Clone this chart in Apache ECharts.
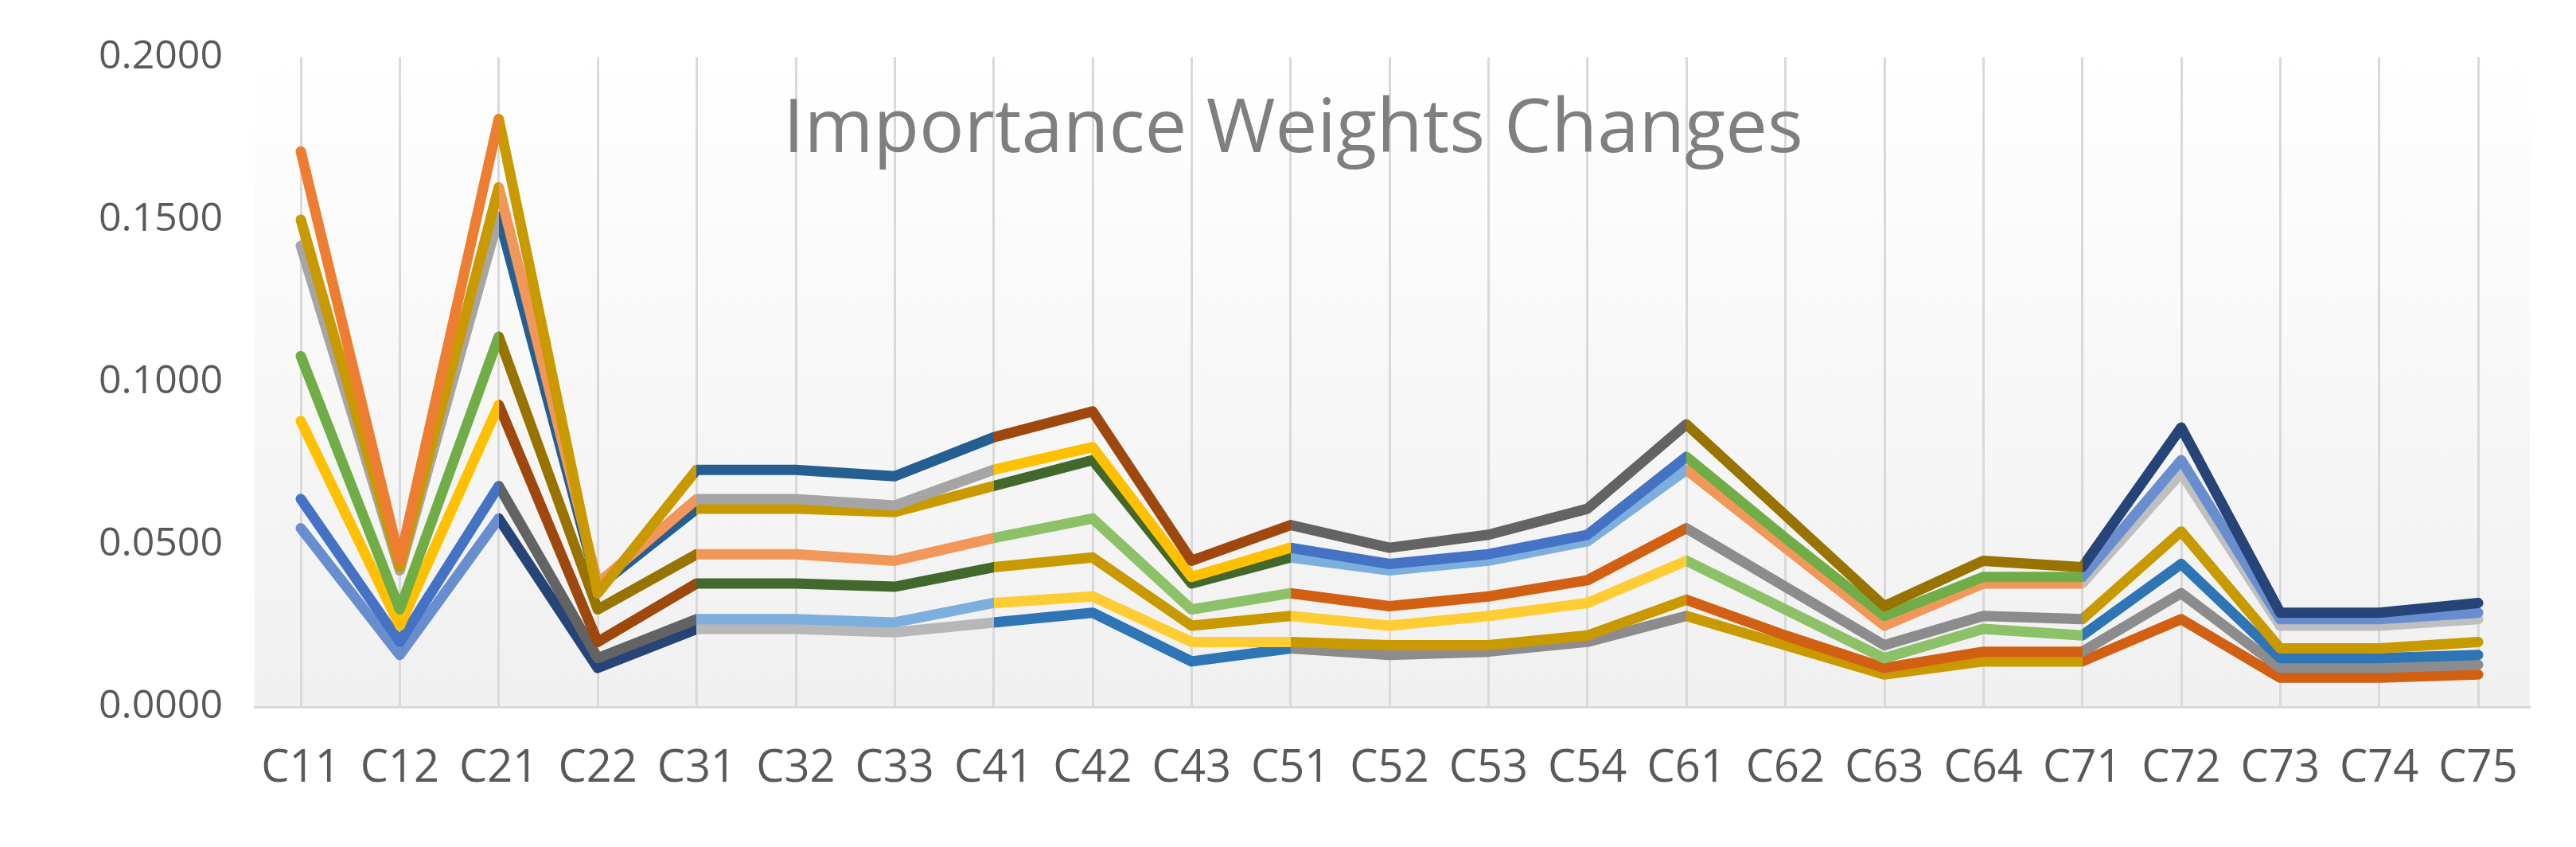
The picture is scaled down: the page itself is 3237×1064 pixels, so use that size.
<!DOCTYPE html>
<html>
<head>
<meta charset="utf-8">
<script src="https://cdn.jsdelivr.net/npm/echarts@6/dist/echarts.min.js"></script>
<style>html,body{margin:0;padding:0;background:#fff}#chart{width:3237px;height:1064px}</style>
</head>
<body>
<div id="chart"></div>
<script>
const categories = ['C11','C12','C21','C22','C31','C32','C33','C41','C42','C43','C51','C52','C53','C54','C61','C62','C63','C64','C71','C72','C73','C74','C75'];

// lines ranked top to bottom inside each criterion group
const line1 = [0.171,0.045,0.181,0.035,0.073,0.073,0.071,0.083,0.091,0.045,0.056,0.049,0.053,0.061,0.087,0.059,0.031,0.045,0.043,0.086,0.029,0.029,0.032];
const line2 = [0.150,0.043,0.160,0.038,0.064,0.064,0.062,0.073,0.080,0.040,0.049,0.044,0.047,0.053,0.077,0.052,0.028,0.040,0.040,0.076,0.027,0.027,0.029];
const line3 = [0.142,0.042,0.151,0.037,0.061,0.061,0.060,0.068,0.076,0.038,0.046,0.042,0.045,0.051,0.073,0.049,0.025,0.038,0.038,0.072,0.025,0.025,0.027];
const line4 = [0.108,0.030,0.114,0.030,0.047,0.047,0.045,0.052,0.058,0.030,0.035,0.031,0.034,0.039,0.055,0.037,0.019,0.028,0.027,0.054,0.018,0.018,0.020];
const line5 = [0.088,0.025,0.093,0.020,0.038,0.038,0.037,0.043,0.046,0.025,0.028,0.025,0.028,0.032,0.045,0.030,0.015,0.024,0.022,0.044,0.015,0.015,0.016];
const line6 = [0.064,0.020,0.068,0.015,0.027,0.027,0.026,0.032,0.034,0.020,0.020,0.019,0.019,0.022,0.033,0.022,0.012,0.017,0.017,0.035,0.012,0.012,0.013];
const line7 = [0.055,0.016,0.058,0.012,0.024,0.024,0.023,0.026,0.029,0.014,0.018,0.016,0.017,0.020,0.028,0.019,0.010,0.014,0.014,0.027,0.009,0.009,0.010];
const yTicks = [0, 0.05, 0.1, 0.15, 0.2];

const lines = [line1, line2, line3, line4, line5, line6, line7];
// colour of each line inside groups C1..C7
const colorsByLine = [
  ['#ED7D31','#C99A00','#255E91','#9E480E','#636363','#997300','#264478'],
  ['#C99A00','#F1975A','#A5A5A5','#FFC000','#4472C4','#70AD47','#698ED0'],
  ['#A5A5A5','#255E91','#C99A00','#43682B','#7CAFDD','#F1975A','#BFBFBF'],
  ['#70AD47','#997300','#F1975A','#8CC168','#D26012','#8C8C8C','#C99A00'],
  ['#FFC000','#9E480E','#43682B','#C99A00','#FFCD33','#8CC168','#2E75B6'],
  ['#4472C4','#636363','#7CAFDD','#FFCD33','#C99A00','#D26012','#8C8C8C'],
  ['#698ED0','#264478','#B7B7B7','#2E75B6','#8C8C8C','#C99A00','#D26012']
];
const bounds = [1.5, 3.5, 6.5, 9.5, 13.5, 17.5];

const visualMaps = lines.map((_, i) => {
  const c = colorsByLine[i];
  const pieces = [{ lt: bounds[0], color: c[0] }];
  for (let g = 1; g < bounds.length; g++) pieces.push({ gte: bounds[g - 1], lt: bounds[g], color: c[g] });
  pieces.push({ gte: bounds[bounds.length - 1], color: c[6] });
  return { type: 'piecewise', show: false, dimension: 0, seriesIndex: i + 1, pieces };
});

const chart = echarts.init(document.getElementById('chart'));
chart.setOption({
  animation: false,
  backgroundColor: '#fff',
  title: {
    text: 'Importance Weights Changes',
    left: 1620, top: 112, textAlign: 'center',
    textStyle: { fontFamily: 'Open Sans', fontWeight: 'normal', fontSize: 94, color: '#7F7F7F' }
  },
  grid: [
    {
      left: 320, right: 58, top: 72, bottom: 176, show: true, borderWidth: 0,
      backgroundColor: new echarts.graphic.LinearGradient(0, 0, 0, 1, [
        { offset: 0, color: '#FFFFFF' }, { offset: 1, color: '#F0F0F0' }
      ])
    },
    { left: 378, right: 123, top: 72, bottom: 176 }
  ],
  visualMap: visualMaps,
  xAxis: [
    {
      gridIndex: 0, type: 'category', data: categories, boundaryGap: true,
      axisLine: { lineStyle: { color: '#D9D9D9', width: 3 } },
      axisTick: { show: false }, splitLine: { show: false }, axisLabel: { show: false }
    },
    {
      gridIndex: 1, type: 'category', data: categories, boundaryGap: false,
      axisLine: { show: false },
      axisTick: { show: false },
      splitLine: { show: true, interval: 0, lineStyle: { color: '#D9D9D9', width: 3 } },
      axisLabel: { interval: 0, margin: 50, fontFamily: 'Open Sans', fontSize: 56, color: '#595959' }
    }
  ],
  yAxis: [
    {
      gridIndex: 0, type: 'value', min: yTicks[0], max: yTicks[yTicks.length - 1], interval: 0.05,
      splitLine: { show: false }, axisLine: { show: false }, axisTick: { show: false },
      axisLabel: { margin: 40, fontFamily: 'Open Sans', fontSize: 50, color: '#595959', formatter: v => v.toFixed(4) }
    },
    {
      gridIndex: 1, type: 'value', min: yTicks[0], max: yTicks[yTicks.length - 1], interval: 0.05,
      show: false
    }
  ],
  series: [{ type: 'line', xAxisIndex: 0, yAxisIndex: 0, data: [], symbol: 'none' }].concat(
    lines.map((d, i) => ({
      type: 'line', xAxisIndex: 1, yAxisIndex: 1, data: d, symbol: 'none', z: 10 - i,
      lineStyle: { width: 13, cap: 'round', join: 'round' }
    }))
  )
});
</script>
</body>
</html>
